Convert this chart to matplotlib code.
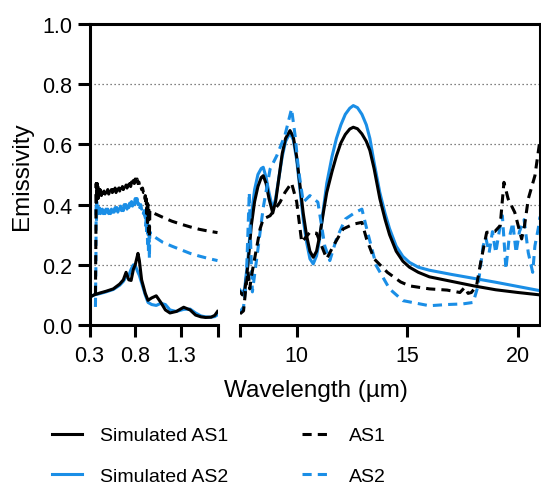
import numpy as np
import matplotlib
matplotlib.use('Agg')
import matplotlib.pyplot as plt
from matplotlib.lines import Line2D

plt.rcParams['font.family'] = ['Liberation Sans', 'DejaVu Sans']

## colours
black = '#000000'
blue = '#1a8ee6'

#############################################################################
## Data: left panel (0.3 - 1.7 um)
#############################################################################
sim_wl_left = [0.30, 0.35, 0.41, 0.48, 0.56, 0.63, 0.67, 0.70, 0.73, 0.755, 0.78, 0.80,
               0.83, 0.845, 0.87, 0.91, 0.94, 0.98, 1.03, 1.08, 1.13, 1.18, 1.25, 1.33,
               1.40, 1.46, 1.52, 1.57, 1.63, 1.67, 1.70]
sim_as1_left = [0.092, 0.100, 0.106, 0.112, 0.120, 0.136, 0.150, 0.175, 0.150, 0.148, 0.185,
                0.200, 0.238, 0.215, 0.150, 0.105, 0.082, 0.090, 0.097, 0.075, 0.050, 0.040,
                0.045, 0.059, 0.050, 0.033, 0.027, 0.025, 0.026, 0.032, 0.045]
sim_as2_left = [0.092, 0.100, 0.104, 0.110, 0.118, 0.132, 0.145, 0.160, 0.165, 0.185, 0.200,
                0.198, 0.175, 0.165, 0.140, 0.100, 0.075, 0.068, 0.065, 0.072, 0.068, 0.050,
                0.045, 0.052, 0.053, 0.040, 0.030, 0.027, 0.026, 0.028, 0.034]

## measured spectra: noisy in the visible, smooth after the detector change
as1_wl_left = [0.365, 0.370, 0.373, 0.376, 0.379, 0.382, 0.385, 0.388, 0.391, 0.394, 0.397,
               0.400, 0.405, 0.410, 0.415, 0.420, 0.425, 0.430, 0.440, 0.450, 0.460, 0.470,
               0.480, 0.490, 0.500, 0.510, 0.520, 0.530, 0.540, 0.550, 0.560, 0.570, 0.580,
               0.590, 0.600, 0.610, 0.620, 0.630, 0.640, 0.650, 0.660, 0.670, 0.680, 0.690,
               0.700, 0.710, 0.720, 0.730, 0.740, 0.750, 0.760, 0.770, 0.780, 0.790, 0.800,
               0.810, 0.820, 0.830, 0.840, 0.850, 0.860, 0.870, 0.880, 0.890, 0.900, 0.905,
               0.910, 0.915, 0.920, 0.925, 0.930, 0.935, 0.940, 0.945, 0.950, 0.955, 0.960,
               0.970, 1.00, 1.05, 1.10, 1.20, 1.30, 1.40, 1.50, 1.60, 1.70]
as1_left = [0.10, 0.30, 0.47, 0.40, 0.47, 0.42, 0.47, 0.43, 0.46, 0.42, 0.45, 0.43, 0.45,
            0.43, 0.45, 0.43, 0.445, 0.43, 0.445, 0.43, 0.445, 0.435, 0.445, 0.435, 0.45,
            0.435, 0.445, 0.435, 0.45, 0.44, 0.45, 0.44, 0.455, 0.44, 0.455, 0.445, 0.455,
            0.445, 0.46, 0.445, 0.46, 0.45, 0.46, 0.45, 0.465, 0.455, 0.465, 0.455, 0.47,
            0.46, 0.475, 0.465, 0.48, 0.47, 0.485, 0.475, 0.485, 0.47, 0.475, 0.46, 0.465,
            0.45, 0.455, 0.44, 0.44, 0.42, 0.43, 0.40, 0.42, 0.37, 0.41, 0.34, 0.40, 0.31,
            0.39, 0.29, 0.38, 0.38, 0.372, 0.365, 0.358, 0.345, 0.335, 0.326, 0.318, 0.312,
            0.307]

as2_wl_left = [0.365, 0.370, 0.373, 0.376, 0.379, 0.382, 0.385, 0.388, 0.391, 0.394, 0.397,
               0.400, 0.405, 0.410, 0.415, 0.420, 0.425, 0.430, 0.440, 0.450, 0.460, 0.470,
               0.480, 0.490, 0.500, 0.510, 0.520, 0.530, 0.540, 0.550, 0.560, 0.570, 0.580,
               0.590, 0.600, 0.610, 0.620, 0.630, 0.640, 0.650, 0.660, 0.670, 0.680, 0.690,
               0.700, 0.710, 0.720, 0.730, 0.740, 0.750, 0.760, 0.770, 0.780, 0.790, 0.800,
               0.810, 0.820, 0.830, 0.840, 0.850, 0.860, 0.870, 0.880, 0.890, 0.900, 0.905,
               0.910, 0.915, 0.920, 0.925, 0.930, 0.935, 0.940, 0.945, 0.950, 0.955, 0.960,
               0.970, 1.00, 1.05, 1.10, 1.20, 1.30, 1.40, 1.50, 1.60, 1.70]
as2_left = [0.06, 0.20, 0.40, 0.34, 0.41, 0.37, 0.40, 0.37, 0.40, 0.37, 0.39, 0.375, 0.39,
            0.37, 0.385, 0.37, 0.385, 0.37, 0.385, 0.37, 0.385, 0.37, 0.385, 0.37, 0.385,
            0.37, 0.385, 0.37, 0.385, 0.37, 0.385, 0.375, 0.39, 0.375, 0.39, 0.375, 0.39,
            0.38, 0.395, 0.38, 0.395, 0.38, 0.40, 0.385, 0.40, 0.385, 0.405, 0.39, 0.405,
            0.39, 0.41, 0.395, 0.415, 0.40, 0.42, 0.405, 0.42, 0.40, 0.41, 0.39, 0.40,
            0.385, 0.39, 0.37, 0.38, 0.35, 0.37, 0.33, 0.36, 0.30, 0.35, 0.27, 0.34, 0.24,
            0.33, 0.22, 0.31, 0.30, 0.295, 0.285, 0.275, 0.262, 0.250, 0.238, 0.229, 0.221,
            0.214]

#############################################################################
## Data: right panel (7.4 - 21 um)
#############################################################################
sim_wl_right = [7.40, 7.55, 7.65, 7.80, 7.95, 8.10, 8.25, 8.40, 8.49, 8.62, 8.75, 8.92, 9.05,
                9.20, 9.35, 9.50, 9.70, 9.85, 10.00, 10.15, 10.30, 10.45, 10.60, 10.75, 10.90,
                11.05, 11.20, 11.36, 11.60, 11.80, 12.00, 12.20, 12.40, 12.56, 12.75, 12.95,
                13.15, 13.31, 13.50, 13.76, 14.00, 14.20, 14.50, 14.80, 15.10, 15.50, 16.00,
                17.00, 18.00, 19.00, 20.00, 21.00]
sim_as1_right = [0.114, 0.100, 0.110, 0.200, 0.330, 0.410, 0.460, 0.490, 0.496, 0.470, 0.420,
                 0.372, 0.410, 0.490, 0.570, 0.620, 0.646, 0.625, 0.560, 0.465, 0.370, 0.297,
                 0.245, 0.225, 0.245, 0.300, 0.370, 0.440, 0.510, 0.562, 0.605, 0.633, 0.651,
                 0.657, 0.652, 0.635, 0.610, 0.580, 0.520, 0.420, 0.350, 0.300, 0.245, 0.212,
                 0.192, 0.175, 0.160, 0.145, 0.130, 0.117, 0.108, 0.100]
sim_as2_right = [0.120, 0.105, 0.120, 0.220, 0.360, 0.450, 0.500, 0.520, 0.524, 0.490, 0.440,
                 0.385, 0.420, 0.490, 0.560, 0.610, 0.638, 0.615, 0.550, 0.450, 0.350, 0.275,
                 0.220, 0.203, 0.230, 0.290, 0.380, 0.470, 0.560, 0.620, 0.665, 0.700, 0.720,
                 0.729, 0.722, 0.700, 0.665, 0.620, 0.540, 0.440, 0.370, 0.320, 0.262, 0.228,
                 0.208, 0.192, 0.182, 0.168, 0.155, 0.142, 0.128, 0.114]

as1_wl_right = [7.44, 7.60, 7.70, 7.80, 7.88, 7.95, 8.05, 8.20, 8.35, 8.49, 8.80, 9.25, 9.47,
                9.77, 10.00, 10.23, 10.60, 10.90, 11.36, 11.66, 12.10, 12.56, 12.95, 13.16,
                13.50, 14.10, 14.70, 15.10, 16.00, 16.80, 17.38, 17.60, 17.75, 17.90, 18.13,
                18.35, 18.59, 18.95, 19.20, 19.37, 19.56, 19.86, 20.17, 20.30, 20.47, 20.77,
                20.96, 21.00]
as1_right = [0.037, 0.047, 0.120, 0.180, 0.120, 0.160, 0.200, 0.260, 0.320, 0.352, 0.363,
             0.408, 0.440, 0.472, 0.410, 0.275, 0.308, 0.305, 0.220, 0.263, 0.319, 0.335,
             0.341, 0.286, 0.220, 0.175, 0.143, 0.130, 0.120, 0.116, 0.108, 0.125, 0.105,
             0.108, 0.130, 0.220, 0.308, 0.310, 0.330, 0.474, 0.419, 0.374, 0.286, 0.330,
             0.419, 0.496, 0.595, 0.620]

as2_wl_right = [7.44, 7.60, 7.72, 7.86, 7.93, 8.00, 8.27, 8.49, 8.80, 9.10, 9.47, 9.77, 9.93,
                10.08, 10.30, 10.60, 10.96, 11.27, 11.50, 11.80, 12.20, 12.65, 12.95, 13.20,
                13.60, 14.20, 14.80, 16.00, 16.80, 17.50, 17.98, 18.20, 18.43, 18.55, 18.70,
                18.85, 19.00, 19.20, 19.30, 19.46, 19.60, 19.77, 19.92, 20.07, 20.28, 20.47,
                20.67, 20.77, 20.92, 21.00]
as2_right = [0.043, 0.060, 0.140, 0.440, 0.250, 0.110, 0.263, 0.390, 0.518, 0.562, 0.630,
             0.718, 0.630, 0.518, 0.408, 0.430, 0.408, 0.263, 0.214, 0.286, 0.352, 0.374,
             0.385, 0.310, 0.197, 0.120, 0.081, 0.064, 0.068, 0.070, 0.075, 0.130, 0.263,
             0.290, 0.240, 0.310, 0.240, 0.330, 0.363, 0.186, 0.286, 0.340, 0.240, 0.310,
             0.350, 0.240, 0.175, 0.263, 0.320, 0.360]

#############################################################################
## Figure layout (pixel positions of the axes frame)
#############################################################################
W, H = 541, 485
fig = plt.figure(figsize=(W / 100, H / 100), dpi=100)

y_bot, y_top = 326, 25
x_l0, x_l1 = 89.5, 217.5      # left panel
x_r0, x_r1 = 240, 540         # right panel
b = 1 - y_bot / H
h = (y_bot - y_top) / H

spine_w = 2.2
dash = (0, (3, 2))
lw = 2.2

## background axes: dotted grid and top frame spanning both panels
bg = fig.add_axes([x_l0 / W, b, (x_r1 - x_l0) / W, h], zorder=0)
bg.set_xlim(0, 1)
bg.set_ylim(0, 1)
bg.set_xticks([])
bg.set_yticks([0.2, 0.4, 0.6, 0.8])
bg.tick_params(left=False, labelleft=False)
bg.yaxis.grid(True, color='0.35', linestyle=(0, (1, 2.2)), linewidth=0.9)
for s in ['left', 'bottom', 'right']:
    bg.spines[s].set_visible(False)
bg.spines['top'].set_linewidth(spine_w)

ax1 = fig.add_axes([x_l0 / W, b, (x_l1 - x_l0) / W, h], zorder=2)
ax2 = fig.add_axes([x_r0 / W, b, (x_r1 - x_r0) / W, h], zorder=2)
for ax in (ax1, ax2):
    ax.patch.set_alpha(0)
    ax.set_ylim(0, 1)
    ax.spines['top'].set_visible(False)
    for s in ax.spines.values():
        s.set_linewidth(spine_w)
    ax.tick_params(direction='out', length=8.5, width=spine_w, labelsize=15.5)
ax1.tick_params(axis='x', pad=6)
ax1.tick_params(axis='y', pad=4)
ax2.tick_params(axis='x', pad=6)

ax1.spines['right'].set_visible(False)
ax2.spines['left'].set_visible(False)

## left panel
ax1.plot(sim_wl_left, sim_as2_left, color=blue, lw=lw)
ax1.plot(sim_wl_left, sim_as1_left, color=black, lw=lw)
ax1.plot(as2_wl_left, as2_left, color=blue, lw=lw, linestyle=dash)
ax1.plot(as1_wl_left, as1_left, color=black, lw=lw, linestyle=dash)
ax1.set_xlim(0.3, 1.7)
ax1.set_xticks([0.3, 0.8, 1.3, 1.7])
ax1.set_xticklabels(['0.3', '0.8', '1.3', ''])
ax1.set_yticks([0, 0.2, 0.4, 0.6, 0.8, 1.0])
ax1.set_yticklabels(['0.0', '0.2', '0.4', '0.6', '0.8', '1.0'])

## right panel
ax2.plot(sim_wl_right, sim_as2_right, color=blue, lw=lw)
ax2.plot(sim_wl_right, sim_as1_right, color=black, lw=lw)
ax2.plot(as2_wl_right, as2_right, color=blue, lw=lw, linestyle=dash)
ax2.plot(as1_wl_right, as1_right, color=black, lw=lw, linestyle=dash)
ax2.set_xlim(7.44, 21)
ax2.set_xticks([7.44, 10, 15, 20])
ax2.set_xticklabels(['', '10', '15', '20'])
ax2.set_yticks([])

## axis titles
fig.text(315.5 / W, 1 - 391 / H, 'Wavelength (µm)', ha='center', va='center', fontsize=17.5)
fig.text(22 / W, 1 - 176 / H, 'Emissivity', ha='center', va='center', fontsize=17.5, rotation=90)

## legend
handles = [Line2D([], [], color=black, lw=lw),
           Line2D([], [], color=blue, lw=lw),
           Line2D([], [], color=black, lw=lw, linestyle=dash),
           Line2D([], [], color=blue, lw=lw, linestyle=dash)]
labels = ['Simulated AS1', 'Simulated AS2', 'AS1', 'AS2']
fig.legend(handles, labels, ncol=2, loc='center left', bbox_to_anchor=(52 / W, 1 - 457 / H),
           frameon=False, fontsize=14, handlelength=1.55, handletextpad=0.9,
           columnspacing=3.8, labelspacing=1.2, borderpad=0, borderaxespad=0)

fig.savefig('out.png', dpi=100)
